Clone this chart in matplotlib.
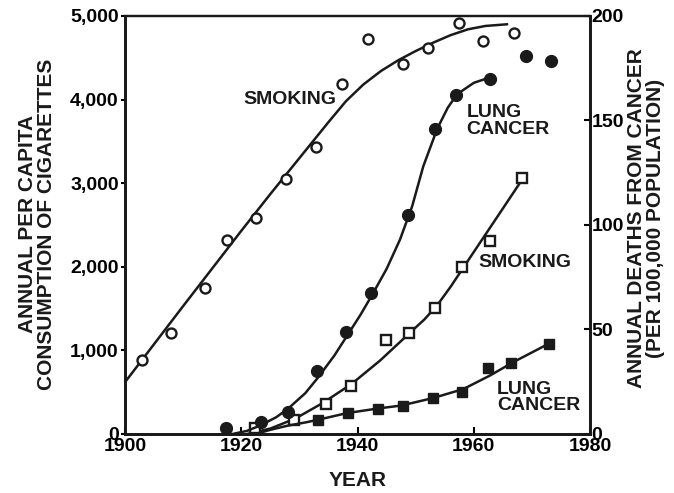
import numpy as np
import matplotlib
matplotlib.use("Agg")
import matplotlib.pyplot as plt

plt.rcParams['font.family'] = ['Liberation Sans', 'DejaVu Sans']
plt.rcParams['font.weight'] = 'bold'

# men: cigarettes per capita (left axis)
men_smoke_year = [1902.9, 1907.9, 1913.7, 1917.5, 1922.6, 1927.7, 1932.9, 1937.3,
                  1941.8, 1947.9, 1952.1, 1957.5, 1961.6, 1966.9]
men_smoke = [885, 1208, 1746, 2320, 2583, 3050, 3433, 4186,
             4724, 4425, 4617, 4916, 4700, 4796]

# men: lung cancer deaths per 100,000 (right axis)
men_cancer_year = [1917.4, 1923.4, 1928.1, 1933.0, 1938.0, 1942.3, 1948.6,
                   1953.3, 1957.0, 1962.8, 1969.0, 1973.3]
men_cancer = [2.9, 5.7, 10.5, 30, 49, 67.5, 105, 146, 162, 170, 181, 178.5]

# women: cigarettes per capita (left axis)
women_smoke_year = [1922.3, 1929.0, 1934.6, 1938.9, 1944.9, 1948.8, 1953.3,
                    1957.9, 1962.8, 1968.3]
women_smoke = [72, 167, 359, 574, 1124, 1208, 1507, 1997, 2310, 3061]

# women: lung cancer deaths per 100,000 (right axis)
women_cancer_year = [1933.2, 1938.4, 1943.5, 1947.8, 1952.9, 1957.9, 1962.5,
                     1966.4, 1972.9]
women_cancer = [6.7, 10, 12, 13.4, 17.2, 20, 31.6, 34, 43]

# hand-drawn trend curves
men_smoke_trend_year = [1900, 1905, 1910, 1915, 1920, 1925, 1930, 1935, 1938, 1941,
                        1944, 1947, 1950, 1953, 1956, 1959, 1962, 1965.7]
men_smoke_trend = [620, 1075, 1530, 1980, 2430, 2870, 3300, 3730, 3980, 4180,
                   4340, 4470, 4580, 4680, 4770, 4840, 4880, 4900]

men_cancer_trend_year = [1918.5, 1921, 1923.2, 1926, 1928, 1931, 1933.2, 1936, 1938.2,
                         1940.5, 1942.5, 1945, 1947.3, 1949.4, 1951.3, 1953.7,
                         1955.5, 1957.1, 1960, 1963.2]
men_cancer_trend = [0, 1.5, 4, 8, 12, 19.5, 27, 37.5, 47, 57, 66.5, 79, 93, 109,
                    128, 146, 156, 162.5, 168, 171]

women_smoke_trend_year = [1921, 1925, 1929.3, 1934, 1939, 1943.9, 1949, 1951.5,
                          1953.7, 1956, 1958.2, 1963.2, 1968.5]
women_smoke_trend = [0, 65, 185, 370, 600, 880, 1210, 1370, 1540, 1760, 1990,
                     2510, 3062]

women_cancer_trend_year = [1922.5, 1925, 1928, 1931, 1933.5, 1938.2, 1943.5, 1947.5,
                           1953, 1958.2, 1962.8, 1966.8, 1973.1]
women_cancer_trend = [0, 2, 4, 5.5, 7, 10, 12.2, 13.6, 17.2, 21.5, 28, 34.4, 43.5]

year_ticks = [1900, 1920, 1940, 1960, 1980]
left_ticks = [0, 1000, 2000, 3000, 4000, 5000]
right_ticks = [0, 50, 100, 150, 200]

W, H = 674, 493
fig = plt.figure(figsize=(W / 100, H / 100), dpi=100)
ax = fig.add_axes([0.1855, 0.1197, 0.69, 0.848])
ax2 = ax.twinx()

ink = '#1a1a1a'
lw = 1.8

# men smoking
ax.plot(men_smoke_trend_year, men_smoke_trend, color=ink, lw=lw)
ax.plot(men_smoke_year, men_smoke, 'o', mfc='white', mec=ink, mew=1.7, ms=7.2)

# women smoking
ax.plot(women_smoke_trend_year, women_smoke_trend, color=ink, lw=lw)
ax.plot(women_smoke_year, women_smoke, 's', mfc='white', mec=ink, mew=1.7, ms=7)

# men lung cancer
ax2.plot(men_cancer_trend_year, men_cancer_trend, color=ink, lw=lw)
ax2.plot(men_cancer_year, men_cancer, 'o', color=ink, ms=8.5)

# women lung cancer
ax2.plot(women_cancer_trend_year, women_cancer_trend, color=ink, lw=lw)
ax2.plot(women_cancer_year, women_cancer, 's', color=ink, ms=7.8)

ax.set_xlim(1900, 1980)
ax.set_ylim(0, 5000)
ax2.set_ylim(0, 200)
ax.set_xticks(year_ticks)
ax.set_yticks(left_ticks)
ax.set_yticklabels([f'{v:,}' for v in left_ticks])
ax2.set_yticks(right_ticks)

for a in (ax, ax2):
    for s in a.spines.values():
        s.set_linewidth(2)
        s.set_color(ink)
    a.spines['top'].set_linewidth(1.6)
ax.tick_params(axis='y', direction='out', length=3, width=1.5, labelsize=14, pad=1.5)
ax.tick_params(axis='x', direction='in', length=5, width=1.5, labelsize=14, pad=3)
ax2.tick_params(axis='y', direction='in', length=4, width=1.5, labelsize=14, pad=1)

# axis titles placed by their centres (pixels from top-left)
title = dict(fontsize=15, fontweight='bold', color=ink, ha='center', va='center',
             multialignment='center', linespacing=1.05)
fig.text(358 / W, 1 - 481 / H, 'YEAR', **title)
fig.text(37 / W, 1 - 224 / H, 'ANNUAL PER CAPITA\nCONSUMPTION OF CIGARETTES',
         rotation=90, **title)
fig.text(646 / W, 1 - 218 / H, 'ANNUAL DEATHS FROM CANCER\n(PER 100,000 POPULATION)',
         rotation=90, **title)

lab = dict(fontsize=14, fontweight='bold', color=ink, linespacing=0.95)
ax.text(1920.3, 3995, 'SMOKING', ha='left', va='center', **lab)
ax.text(1958.7, 3743, 'LUNG\nCANCER', ha='left', va='center', **lab)
ax.text(1960.8, 2045, 'SMOKING', ha='left', va='center', **lab)
ax.text(1964.0, 437, 'LUNG\nCANCER', ha='left', va='center', **lab)

fig.savefig('out.png', dpi=100)
